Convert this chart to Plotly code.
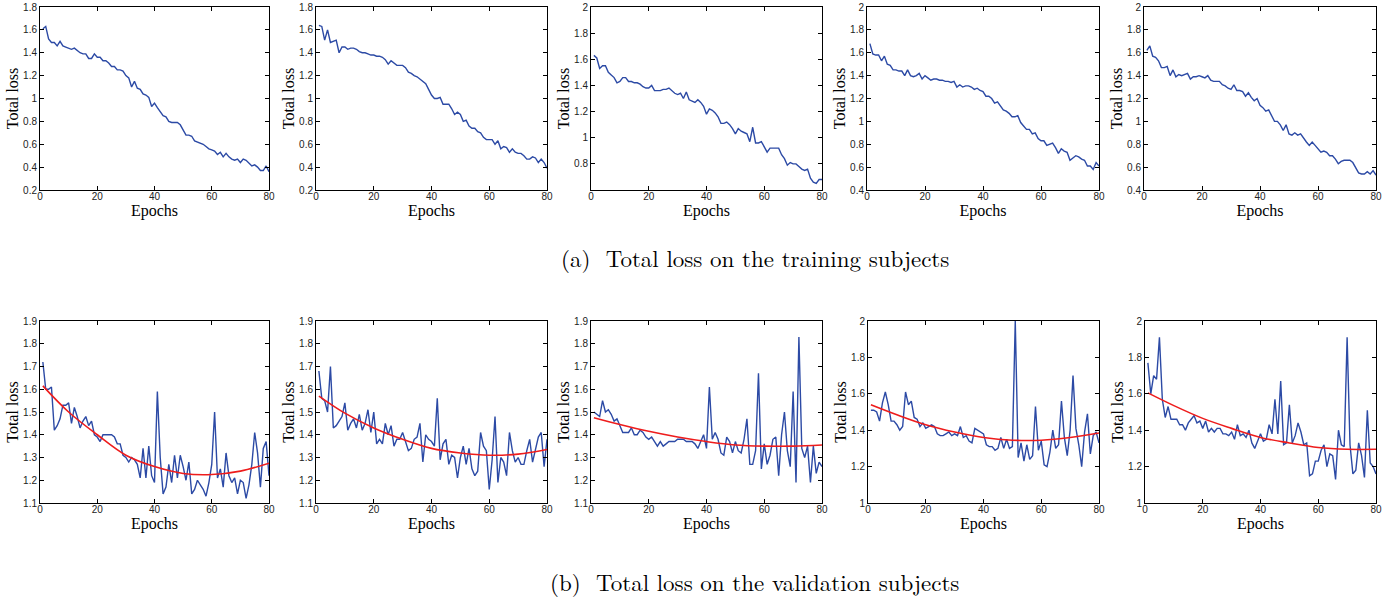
import plotly.graph_objects as go

W, H = 1397, 600
epochs = list(range(1, 81))

train_1 = [1.61,1.63,1.52,1.49,1.49,1.46,1.50,1.46,1.45,1.44,1.43,1.44,1.42,1.40,1.39,1.39,1.35,1.35,1.39,1.36,
           1.36,1.33,1.33,1.31,1.28,1.28,1.25,1.25,1.24,1.20,1.18,1.10,1.15,1.09,1.08,1.04,1.03,1.01,0.93,0.96,
           0.92,0.88,0.85,0.84,0.80,0.79,0.79,0.79,0.77,0.72,0.68,0.68,0.67,0.63,0.62,0.61,0.60,0.58,0.56,0.55,
           0.54,0.51,0.53,0.49,0.52,0.49,0.47,0.46,0.47,0.44,0.47,0.46,0.43,0.41,0.42,0.40,0.37,0.37,0.41,0.36]
train_2 = [1.64,1.63,1.51,1.60,1.49,1.50,1.51,1.40,1.45,1.45,1.43,1.44,1.44,1.43,1.41,1.40,1.40,1.39,1.38,1.38,
           1.37,1.37,1.36,1.34,1.30,1.33,1.31,1.29,1.29,1.29,1.27,1.23,1.22,1.20,1.19,1.17,1.15,1.13,1.08,1.03,
           1.00,1.00,1.01,0.95,0.95,0.95,0.91,0.86,0.88,0.86,0.80,0.81,0.76,0.74,0.74,0.71,0.70,0.66,0.64,0.64,
           0.64,0.60,0.63,0.56,0.58,0.57,0.53,0.56,0.53,0.52,0.52,0.50,0.47,0.47,0.49,0.48,0.44,0.47,0.44,0.39]
train_3 = [1.63,1.61,1.53,1.55,1.55,1.50,1.48,1.46,1.42,1.43,1.46,1.46,1.43,1.43,1.42,1.42,1.41,1.39,1.38,1.38,
           1.40,1.36,1.36,1.36,1.37,1.37,1.38,1.36,1.34,1.33,1.34,1.30,1.35,1.29,1.28,1.27,1.29,1.27,1.24,1.18,
           1.22,1.21,1.19,1.16,1.11,1.11,1.12,1.10,1.07,1.03,1.07,1.05,1.04,1.03,0.97,1.08,0.96,0.96,0.97,0.93,
           0.89,0.92,0.92,0.92,0.92,0.87,0.84,0.79,0.81,0.80,0.80,0.78,0.76,0.75,0.76,0.69,0.66,0.65,0.68,0.68]
train_4 = [1.68,1.59,1.58,1.58,1.53,1.57,1.50,1.49,1.45,1.45,1.44,1.44,1.40,1.45,1.40,1.39,1.40,1.42,1.37,1.40,
           1.38,1.36,1.37,1.37,1.36,1.36,1.35,1.35,1.34,1.35,1.30,1.32,1.30,1.31,1.31,1.30,1.28,1.29,1.27,1.26,
           1.22,1.22,1.20,1.16,1.17,1.14,1.10,1.09,1.07,1.04,1.04,1.05,0.99,0.96,0.93,0.93,0.89,0.90,0.85,0.83,
           0.83,0.79,0.80,0.81,0.77,0.72,0.76,0.74,0.73,0.66,0.68,0.70,0.69,0.67,0.66,0.61,0.61,0.58,0.64,0.61]
train_5 = [1.62,1.66,1.57,1.56,1.53,1.47,1.47,1.48,1.40,1.45,1.39,1.41,1.40,1.41,1.42,1.37,1.39,1.39,1.40,1.39,
           1.38,1.40,1.36,1.35,1.35,1.35,1.32,1.31,1.29,1.28,1.32,1.27,1.27,1.26,1.22,1.25,1.21,1.18,1.20,1.14,
           1.12,1.09,1.10,1.05,1.00,1.00,0.97,0.92,0.97,0.89,0.88,0.90,0.88,0.89,0.85,0.82,0.79,0.82,0.79,0.76,
           0.73,0.74,0.73,0.70,0.70,0.67,0.63,0.65,0.66,0.66,0.66,0.64,0.60,0.55,0.54,0.54,0.56,0.54,0.57,0.53]

val_1 = [1.72,1.60,1.60,1.61,1.42,1.44,1.47,1.53,1.53,1.54,1.45,1.52,1.48,1.43,1.46,1.48,1.44,1.46,1.40,1.39,
         1.37,1.40,1.40,1.40,1.40,1.39,1.36,1.36,1.31,1.30,1.28,1.30,1.29,1.27,1.21,1.34,1.21,1.35,1.22,1.19,
         1.59,1.30,1.14,1.17,1.27,1.19,1.31,1.21,1.31,1.26,1.20,1.28,1.14,1.16,1.20,1.18,1.16,1.13,1.19,1.27,
         1.50,1.21,1.25,1.17,1.32,1.22,1.19,1.21,1.14,1.20,1.19,1.12,1.18,1.27,1.41,1.32,1.17,1.34,1.37,1.22]
val_2 = [1.68,1.56,1.55,1.50,1.70,1.43,1.44,1.46,1.48,1.54,1.42,1.45,1.47,1.43,1.49,1.42,1.45,1.51,1.41,1.50,
         1.36,1.38,1.36,1.45,1.40,1.44,1.35,1.38,1.38,1.41,1.37,1.33,1.34,1.38,1.39,1.45,1.28,1.40,1.38,1.37,
         1.35,1.56,1.29,1.36,1.38,1.27,1.31,1.30,1.21,1.30,1.35,1.27,1.34,1.25,1.22,1.24,1.41,1.35,1.33,1.16,
         1.29,1.48,1.19,1.30,1.28,1.22,1.41,1.33,1.28,1.30,1.27,1.27,1.33,1.38,1.28,1.34,1.39,1.41,1.26,1.38]
val_3 = [1.50,1.49,1.48,1.55,1.50,1.51,1.49,1.46,1.47,1.44,1.41,1.41,1.41,1.43,1.40,1.40,1.42,1.41,1.39,1.38,
         1.39,1.37,1.35,1.37,1.35,1.36,1.37,1.37,1.37,1.38,1.38,1.38,1.37,1.37,1.37,1.36,1.34,1.37,1.40,1.34,
         1.61,1.38,1.41,1.38,1.32,1.31,1.39,1.37,1.32,1.37,1.33,1.32,1.38,1.47,1.27,1.27,1.33,1.67,1.25,1.36,
         1.27,1.31,1.38,1.39,1.22,1.40,1.50,1.33,1.26,1.59,1.19,1.83,1.34,1.30,1.35,1.19,1.35,1.23,1.28,1.26]
val_4 = [1.51,1.51,1.50,1.45,1.55,1.61,1.54,1.45,1.45,1.43,1.40,1.42,1.61,1.54,1.56,1.47,1.46,1.42,1.44,1.41,
         1.42,1.43,1.42,1.38,1.37,1.37,1.38,1.39,1.37,1.38,1.37,1.42,1.36,1.37,1.34,1.33,1.41,1.40,1.39,1.38,
         1.32,1.31,1.31,1.29,1.30,1.36,1.30,1.35,1.30,1.31,2.00,1.25,1.33,1.23,1.32,1.24,1.26,1.53,1.29,1.34,
         1.21,1.20,1.28,1.40,1.30,1.32,1.56,1.36,1.26,1.40,1.70,1.41,1.32,1.20,1.39,1.49,1.27,1.37,1.39,1.33]
val_5 = [1.77,1.60,1.70,1.68,1.91,1.57,1.47,1.53,1.46,1.46,1.46,1.43,1.43,1.40,1.44,1.46,1.48,1.44,1.45,1.41,
         1.45,1.39,1.41,1.39,1.41,1.41,1.38,1.38,1.37,1.39,1.35,1.43,1.37,1.38,1.36,1.40,1.33,1.30,1.34,1.38,
         1.34,1.35,1.43,1.38,1.57,1.38,1.67,1.32,1.33,1.54,1.33,1.37,1.44,1.39,1.32,1.33,1.15,1.16,1.23,1.23,
         1.29,1.32,1.20,1.27,1.26,1.13,1.40,1.32,1.31,1.91,1.32,1.16,1.18,1.33,1.26,1.14,1.51,1.22,1.20,1.16]

fit_epochs = [1, 10, 20, 30, 40, 50, 60, 70, 80]
fit_1 = [1.615, 1.50, 1.40, 1.31, 1.26, 1.23, 1.225, 1.24, 1.275]
fit_2 = [1.57, 1.495, 1.43, 1.38, 1.34, 1.32, 1.31, 1.315, 1.335]
fit_3 = [1.475, 1.445, 1.415, 1.39, 1.37, 1.355, 1.35, 1.35, 1.355]
fit_4 = [1.54, 1.485, 1.43, 1.39, 1.36, 1.345, 1.345, 1.36, 1.385]
fit_5 = [1.605, 1.535, 1.465, 1.41, 1.36, 1.33, 1.305, 1.295, 1.295]

train_series = [train_1, train_2, train_3, train_4, train_5]
val_series = [val_1, val_2, val_3, val_4, val_5]
fit_series = [fit_1, fit_2, fit_3, fit_4, fit_5]

train_ranges = [[0.2, 1.8], [0.2, 1.8], [0.6, 2.0], [0.4, 2.0], [0.4, 2.0]]
train_ticks = [[0.2, 0.4, 0.6, 0.8, 1, 1.2, 1.4, 1.6, 1.8]] * 2 + [[0.8, 1, 1.2, 1.4, 1.6, 1.8, 2]] + [[0.4, 0.6, 0.8, 1, 1.2, 1.4, 1.6, 1.8, 2]] * 2
val_ranges = [[1.1, 1.9], [1.1, 1.9], [1.1, 1.9], [1.0, 2.0], [1.0, 2.0]]
val_ticks = [[1.1, 1.2, 1.3, 1.4, 1.5, 1.6, 1.7, 1.8, 1.9]] * 3 + [[1, 1.2, 1.4, 1.6, 1.8, 2]] * 2
x_ticks = [0, 20, 40, 60, 80]

caption_a = "(a)  Total loss on the training subjects"
caption_b = "(b)  Total loss on the validation subjects"

BLUE = "#2c4aa5"
RED = "#ee1c1c"

# screen pixel positions of the plot frames
top_px = [(40, 269), (316, 547), (591, 822), (867, 1099), (1144, 1376)]
bot_px = [(40, 269), (316, 547), (591, 822), (868, 1099), (1145, 1376)]
top_y = (7, 190)
bot_y = (321, 503)

fig = go.Figure()
layout = {}

def fx(px):
    return px / W

def fy(py):
    return 1 - py / H

def fmt(v):
    return "%g" % v

def add_axes(idx, xpx, ypx, yrange, yticks):
    xa = "xaxis" if idx == 1 else f"xaxis{idx}"
    ya = "yaxis" if idx == 1 else f"yaxis{idx}"
    common = dict(showline=True, linecolor="black", linewidth=1, mirror="ticks",
                  ticks="inside", ticklen=4, tickcolor="black", showgrid=False, zeroline=False,
                  automargin=False,
                  tickfont=dict(family="Liberation Sans, Arial", size=10, color="#222"))
    layout[xa] = dict(domain=[fx(xpx[0]), fx(xpx[1])], anchor=f"y{idx if idx > 1 else ''}",
                      range=[0, 80], tickvals=x_ticks, ticktext=[str(t) for t in x_ticks],
                      ticklabelstandoff=-3,
                      title=dict(text="Epochs", standoff=0,
                                 font=dict(family="Liberation Serif, Times New Roman", size=16, color="black")),
                      **common)
    layout[ya] = dict(domain=[fy(ypx[1]), fy(ypx[0])], anchor=f"x{idx if idx > 1 else ''}",
                      range=yrange, tickvals=yticks, ticktext=[fmt(t) for t in yticks],
                      title=dict(text="Total loss", standoff=0,
                                 font=dict(family="Liberation Serif, Times New Roman", size=16, color="black")),
                      **common)

for i in range(5):
    idx = i + 1
    add_axes(idx, top_px[i], top_y, train_ranges[i], train_ticks[i])
    fig.add_trace(go.Scatter(x=epochs, y=train_series[i], mode="lines",
                             line=dict(color=BLUE, width=1.4),
                             xaxis=f"x{idx if idx > 1 else ''}", yaxis=f"y{idx if idx > 1 else ''}",
                             showlegend=False))

for i in range(5):
    idx = i + 6
    add_axes(idx, bot_px[i], bot_y, val_ranges[i], val_ticks[i])
    fig.add_trace(go.Scatter(x=epochs, y=val_series[i], mode="lines",
                             line=dict(color=BLUE, width=1.4),
                             xaxis=f"x{idx}", yaxis=f"y{idx}", showlegend=False))
    fig.add_trace(go.Scatter(x=fit_epochs, y=fit_series[i], mode="lines",
                             line=dict(color=RED, width=1.6, shape="spline", smoothing=1.0),
                             xaxis=f"x{idx}", yaxis=f"y{idx}", showlegend=False))

fig.update_layout(**layout)
fig.update_layout(
    width=W, height=H,
    margin=dict(l=0, r=0, t=0, b=0),
    paper_bgcolor="white", plot_bgcolor="white",
    showlegend=False,
    annotations=[
        dict(text=caption_a, x=fx(755), y=fy(258), xref="paper", yref="paper",
             showarrow=False, xanchor="center", yanchor="middle",
             font=dict(family="Latin Modern Roman, CMU Serif, DejaVu Serif", size=23, color="black")),
        dict(text=caption_b, x=fx(755), y=fy(581), xref="paper", yref="paper",
             showarrow=False, xanchor="center", yanchor="middle",
             font=dict(family="Latin Modern Roman, CMU Serif, DejaVu Serif", size=23, color="black")),
    ],
)

fig.write_html("out.html", config={"displayModeBar": False},
               post_script="document.body.style.margin='0';document.body.style.overflow='hidden';")
